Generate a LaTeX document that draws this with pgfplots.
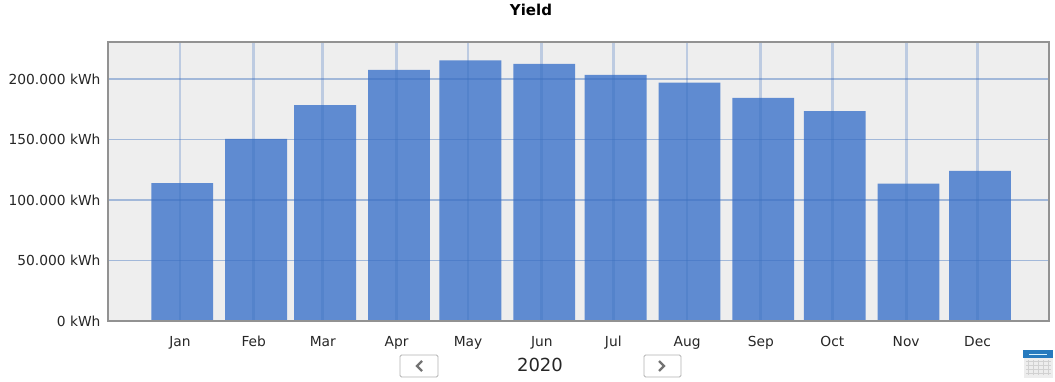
\documentclass[border=0pt]{standalone}
\usepackage{pgfplots}
\pgfplotsset{compat=1.18}
\usepackage{fontspec}
\setmainfont{DejaVu Sans}
\definecolor{panel}{HTML}{EEEEEE}
\definecolor{frame}{HTML}{929292}
\definecolor{gridblue}{HTML}{3A6EBE}
\definecolor{barblue}{HTML}{5F8BD1}
\pgfplotstableread{
day yield
2   114000
33  150500
62  178500
93  207500
123 215500
154 212500
184 203500
215 197000
246 184500
276 173500
307 113500
337 124000
}\yieldtable
\begin{document}
\begin{tikzpicture}
\path[use as bounding box] (0pt,0pt) rectangle (1055pt,382pt);
\begin{axis}[
  at={(108pt,61pt)}, anchor=south west,
  scale only axis, width=941pt, height=279pt,
  xmin=-29.2, xmax=366,
  ymin=0, ymax=230600,
  ybar, bar width=26, bar shift=0pt,
  axis background/.style={fill=panel},
  axis line style={frame, line width=1.2pt},
  axis on top,
  xtick={1,32,61,92,122,153,183,214,245,275,306,336},
  xticklabels={Jan,Feb,Mar,Apr,May,Jun,Jul,Aug,Sep,Oct,Nov,Dec},
  ytick={0,50000,100000,150000,200000},
  yticklabels={0 kWh,50.000 kWh,100.000 kWh,150.000 kWh,200.000 kWh},
  scaled y ticks=false,
  tick style={draw=none},
  tick label style={font=\fontsize{13.8}{16}\selectfont, text=black!85},
  xticklabel style={yshift=-7pt, text height=10.5pt, text depth=3pt},
  yticklabel style={xshift=-4pt},
  xmajorgrids, ymajorgrids,
  x grid style={gridblue, opacity=0.27, line width=2.8pt},
  y grid style={gridblue, opacity=0.42, line width=1.8pt},
  title style={at={(0.4495,1)}, anchor=south, yshift=17pt, font=\bfseries\fontsize{15}{18}\selectfont},
  title={Yield},
]
\addplot[draw=none, fill=barblue] table[x=day,y=yield] {\yieldtable};
\end{axis}
% year navigation beneath the axis
\begin{scope}[x=1pt,y=1pt]
\node[font=\fontsize{18}{22}\selectfont, text=black!85] at (540,17) {2020};
\draw[black!30, fill=white, rounded corners=1.5pt, line width=0.9pt] (400,5) rectangle (438,27);
\draw[black!55, line width=2.4pt] (422,21) -- (417,16) -- (422,11);
\draw[black!30, fill=white, rounded corners=1.5pt, line width=0.9pt] (644,5) rectangle (681,27);
\draw[black!55, line width=2.4pt] (659,21) -- (664,16) -- (659,11);
% calendar icon
\fill[black!7] (1024,4) rectangle (1053,32);
\fill[blue!45!cyan!70!black!85] (1023,24) rectangle (1053,32);
\fill[white!85!cyan] (1029,27) rectangle (1047,28.2);
\foreach \x in {1028,1033,1038,1043,1048} \draw[black!18, line width=0.8pt] (\x,7) -- (\x,22);
\foreach \y in {9,13,17,21} \draw[black!18, line width=0.8pt] (1026,\y) -- (1051,\y);
\end{scope}
\end{tikzpicture}
\end{document}
